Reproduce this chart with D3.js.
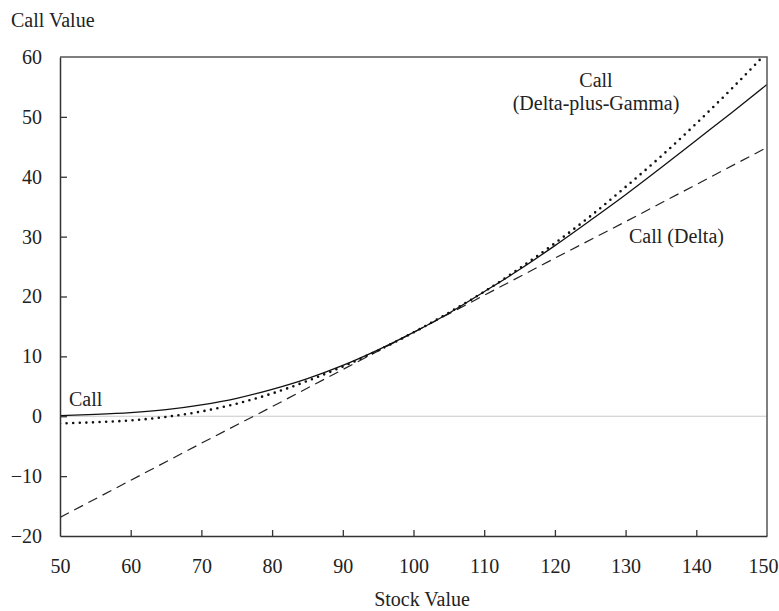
<!DOCTYPE html>
<html>
<head>
<meta charset="utf-8">
<script src="https://cdn.jsdelivr.net/npm/d3@7"></script>
<style>
  body { margin: 0; background: #fff; }
  text { font-family: "Liberation Serif", "Times New Roman", serif; fill: #222; }
</style>
</head>
<body>
<svg id="chart" width="779" height="611"></svg>
<script>
// stock prices
const stockPrices = [50, 55, 60, 65, 70, 75, 80, 85, 90, 95, 100, 105, 110, 115, 120, 125, 130, 135, 140, 145, 150];
// call value (full)
const callValues = [0.1, 0.3, 0.6, 1.1, 1.9, 3.0, 4.5, 6.3, 8.5, 11.1, 14.0, 17.2, 20.8, 24.5, 28.5, 32.7, 37.0, 41.5, 46.1, 50.7, 55.4];
// delta-plus-gamma approximation
const gammaValues = [-1.2, -1.0, -0.7, -0.1, 0.8, 2.1, 3.8, 5.9, 8.3, 11.0, 14.0, 17.3, 20.8, 24.7, 28.9, 33.4, 38.3, 43.4, 48.9, 54.7, 60.8];
// delta approximation
const deltaPrices = [50, 60, 70, 80, 90, 100, 110, 120, 130, 140, 150];
const deltaValues = [-16.9, -10.7, -4.5, 1.6, 7.8, 14.0, 20.2, 26.4, 32.5, 38.7, 44.9];

const xTicks = [50, 60, 70, 80, 90, 100, 110, 120, 130, 140, 150];
const yTicks = [-20, -10, 0, 10, 20, 30, 40, 50, 60];

const fontSize = '20px';
const margin = {top: 57, right: 12, bottom: 75, left: 60};
const svg = d3.select('#chart');
const width = 779 - margin.left - margin.right;
const height = 611 - margin.top - margin.bottom;

const x = d3.scaleLinear().domain([50, 150]).range([margin.left, margin.left + width]);
const y = d3.scaleLinear().domain([-20, 60]).range([margin.top + height, margin.top]);

svg.append('clipPath').attr('id', 'plot-clip')
  .append('rect')
  .attr('x', margin.left).attr('y', margin.top)
  .attr('width', width).attr('height', height);

// zero line
svg.append('line')
  .attr('x1', x(50)).attr('x2', x(150))
  .attr('y1', y(0)).attr('y2', y(0))
  .attr('stroke', '#c8c8c8').attr('stroke-width', 1.2);

const line = d3.line().x(d => x(d[0])).y(d => y(d[1]));
const plot = svg.append('g').attr('clip-path', 'url(#plot-clip)');

plot.append('path')
  .datum(deltaPrices.map((p, i) => [p, deltaValues[i]]))
  .attr('d', line)
  .attr('fill', 'none').attr('stroke', '#222').attr('stroke-width', 1.2)
  .attr('stroke-dasharray', '10,6');

plot.append('path')
  .datum(stockPrices.map((p, i) => [p, gammaValues[i]]))
  .attr('d', line.curve(d3.curveMonotoneX))
  .attr('fill', 'none').attr('stroke', '#111').attr('stroke-width', 2.6)
  .attr('stroke-linecap', 'round')
  .attr('stroke-dasharray', '0,6.6');

plot.append('path')
  .datum(stockPrices.map((p, i) => [p, callValues[i]]))
  .attr('d', line.curve(d3.curveMonotoneX))
  .attr('fill', 'none').attr('stroke', '#111').attr('stroke-width', 1.3);

// frame (top and right)
svg.append('path')
  .attr('d', `M${x(50)},${y(60)}H${x(150)}V${y(-20)}`)
  .attr('fill', 'none').attr('stroke', '#555').attr('stroke-width', 1.5);

// axes
const xAxis = svg.append('g')
  .attr('transform', `translate(0,${y(-20)})`)
  .call(d3.axisBottom(x).tickValues(xTicks).tickSizeInner(-6).tickSizeOuter(0).tickPadding(23));
const yAxis = svg.append('g')
  .attr('transform', `translate(${x(50)},0)`)
  .call(d3.axisLeft(y).tickValues(yTicks).tickSizeInner(-7).tickSizeOuter(0).tickPadding(18)
    .tickFormat(d => d < 0 ? '\u2212' + Math.abs(d) : d));

[xAxis, yAxis].forEach(a => {
  a.select('.domain').attr('stroke', '#333').attr('stroke-width', 1.5);
  a.selectAll('.tick line').attr('stroke', '#333').attr('stroke-width', 1.3);
  a.selectAll('.tick text')
    .style('font-family', '"Liberation Serif", serif')
    .style('font-size', fontSize).attr('fill', '#222');
});
// hide ticks that sit on the frame
xAxis.selectAll('.tick').filter(d => d === 50 || d === 150).select('line').remove();
yAxis.selectAll('.tick').filter(d => d === -20 || d === 60).select('line').remove();
// keep the last label inside the page
xAxis.selectAll('.tick').filter(d => d === 150).select('text').attr('dx', -4);

// axis titles
svg.append('text').attr('x', 11).attr('y', 27).style('font-size', fontSize).text('Call Value');
svg.append('text').attr('x', 422).attr('y', 606).attr('text-anchor', 'middle')
  .style('font-size', fontSize).text('Stock Value');

// series labels
svg.append('text').attr('x', 69).attr('y', 406).style('font-size', fontSize).text('Call');
svg.append('text').attr('x', 596).attr('y', 87).attr('text-anchor', 'middle')
  .style('font-size', fontSize).text('Call');
svg.append('text').attr('x', 596).attr('y', 110).attr('text-anchor', 'middle')
  .style('font-size', fontSize).text('(Delta-plus-Gamma)');
svg.append('text').attr('x', 629).attr('y', 243).style('font-size', fontSize).text('Call (Delta)');
</script>
</body>
</html>
